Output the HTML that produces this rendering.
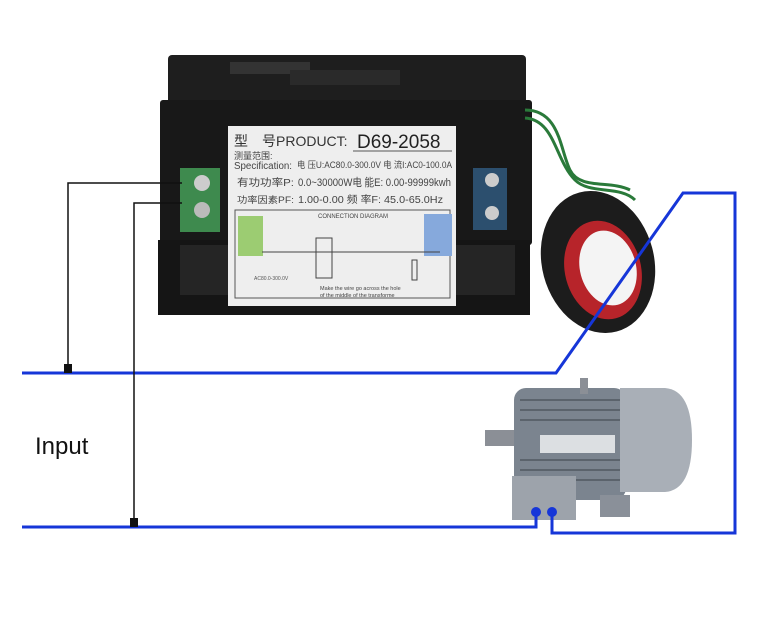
<!DOCTYPE html>
<html><head><meta charset="utf-8"><style>
body{margin:0;background:#fff}
svg{display:block}
text{font-family:"Liberation Sans","Noto Sans CJK SC",sans-serif}
</style></head><body>
<svg width="758" height="621" viewBox="0 0 758 621" xmlns="http://www.w3.org/2000/svg">
<rect width="758" height="621" fill="#fff"/>
<rect x="168" y="55" width="358" height="70" rx="4" fill="#1e1e1e"/>
<rect x="230" y="62" width="80" height="12" fill="#333"/>
<rect x="290" y="70" width="110" height="15" fill="#2a2a2a"/>
<rect x="160" y="100" width="372" height="145" rx="3" fill="#181818"/>
<rect x="158" y="240" width="372" height="75" fill="#151515"/>
<rect x="180" y="245" width="335" height="50" fill="#252525"/>
<rect x="180" y="168" width="40" height="64" fill="#3e8a4e"/>
<circle cx="202" cy="183" r="8" fill="#ccc"/><circle cx="202" cy="210" r="8" fill="#bbb"/>
<rect x="473" y="168" width="34" height="62" fill="#2c4f6e"/>
<circle cx="492" cy="180" r="7" fill="#ccc"/><circle cx="492" cy="213" r="7" fill="#ccc"/>
<rect x="228" y="126" width="228" height="180" fill="#eeeeee"/>
<text x="234" y="146" font-size="14" fill="#333">型　号PRODUCT:</text>
<text x="357" y="148" font-size="19" fill="#222">D69-2058</text>
<line x1="353" y1="151" x2="452" y2="151" stroke="#555"/>
<text x="234" y="159" font-size="9" fill="#444">测量范围:</text>
<text x="234" y="169" font-size="10" fill="#444" textLength="58" lengthAdjust="spacingAndGlyphs">Specification:</text>
<text x="297" y="168" font-size="9" fill="#444" textLength="155" lengthAdjust="spacingAndGlyphs">电 压U:AC80.0-300.0V 电 流I:AC0-100.0A</text>
<text x="237" y="186" font-size="10" fill="#444" textLength="57" lengthAdjust="spacingAndGlyphs">有功功率P:</text>
<text x="298" y="186" font-size="11" fill="#444" textLength="153" lengthAdjust="spacingAndGlyphs">0.0~30000W电 能E: 0.00-99999kwh</text>
<text x="237" y="203" font-size="9" fill="#444" textLength="57" lengthAdjust="spacingAndGlyphs">功率因素PF:</text>
<text x="298" y="203" font-size="10" fill="#444" textLength="145" lengthAdjust="spacingAndGlyphs">1.00-0.00  频 率F: 45.0-65.0Hz</text>
<rect x="235" y="210" width="215" height="88" fill="none" stroke="#555"/>
<rect x="238" y="216" width="25" height="40" fill="#9ccc72"/>
<rect x="424" y="214" width="28" height="42" fill="#86a9dc"/>
<text x="318" y="218" font-size="6" fill="#444">CONNECTION DIAGRAM</text>
<text x="320" y="290" font-size="5.5" fill="#444">Make the wire go across the hole</text>
<text x="320" y="297" font-size="5.5" fill="#444">of the middle of the transforme</text>
<text x="254" y="280" font-size="5" fill="#555">AC80.0-300.0V</text>
<rect x="316" y="238" width="16" height="40" fill="none" stroke="#444"/>
<line x1="262" y1="252" x2="440" y2="252" stroke="#444"/>
<rect x="412" y="260" width="5" height="20" fill="none" stroke="#444"/>
<ellipse cx="598" cy="262" rx="56" ry="72" fill="#1c1c1c" transform="rotate(-15 598 262)"/>
<ellipse cx="603" cy="270" rx="38" ry="50" fill="#b7242a" transform="rotate(-15 603 270)"/>
<ellipse cx="608" cy="268" rx="28" ry="38" fill="#f4f4f4" transform="rotate(-15 608 268)"/>
<path d="M525 110 C560 110 560 150 570 170 C580 190 610 180 630 190" stroke="#2a7a3a" stroke-width="3" fill="none"/>
<path d="M525 118 C555 120 555 160 575 180 C590 195 620 185 635 200" stroke="#2a7a3a" stroke-width="3" fill="none"/>
<rect x="485" y="430" width="32" height="16" fill="#8b8f96"/>
<rect x="514" y="388" width="112" height="112" rx="12" fill="#7b848f"/>
<g stroke="#5b636c" stroke-width="2">
<line x1="520" y1="400" x2="620" y2="400"/><line x1="520" y1="410" x2="620" y2="410"/><line x1="520" y1="420" x2="620" y2="420"/>
<line x1="520" y1="460" x2="620" y2="460"/><line x1="520" y1="470" x2="620" y2="470"/><line x1="520" y1="480" x2="620" y2="480"/>
</g>
<rect x="580" y="378" width="8" height="16" fill="#8b8f96"/>
<rect x="540" y="435" width="75" height="18" fill="#dcdfe2"/>
<path d="M620 388 L665 388 Q692 390 692 440 Q692 490 665 492 L620 492 Z" fill="#a9afb7"/>
<rect x="512" y="476" width="64" height="44" fill="#9da3ab"/>
<rect x="600" y="495" width="30" height="22" fill="#8a9099"/>
<g stroke="#1636d8" stroke-width="3" fill="none">
<polyline points="22,373 556,373 683,193 735,193 735,533 552,533 552,512"/>
<polyline points="22,527 536,527 536,512"/>
</g>
<circle cx="536" cy="512" r="5" fill="#1636d8"/><circle cx="552" cy="512" r="5" fill="#1636d8"/>
<g stroke="#111" stroke-width="1.5" fill="none">
<polyline points="182,183 68,183 68,370"/>
<polyline points="182,203 134,203 134,524"/>
</g>
<rect x="64" y="364" width="8" height="9" fill="#111"/>
<rect x="130" y="518" width="8" height="9" fill="#111"/>
<text x="35" y="454" font-size="24" fill="#111">Input</text>
</svg>
</body></html>
